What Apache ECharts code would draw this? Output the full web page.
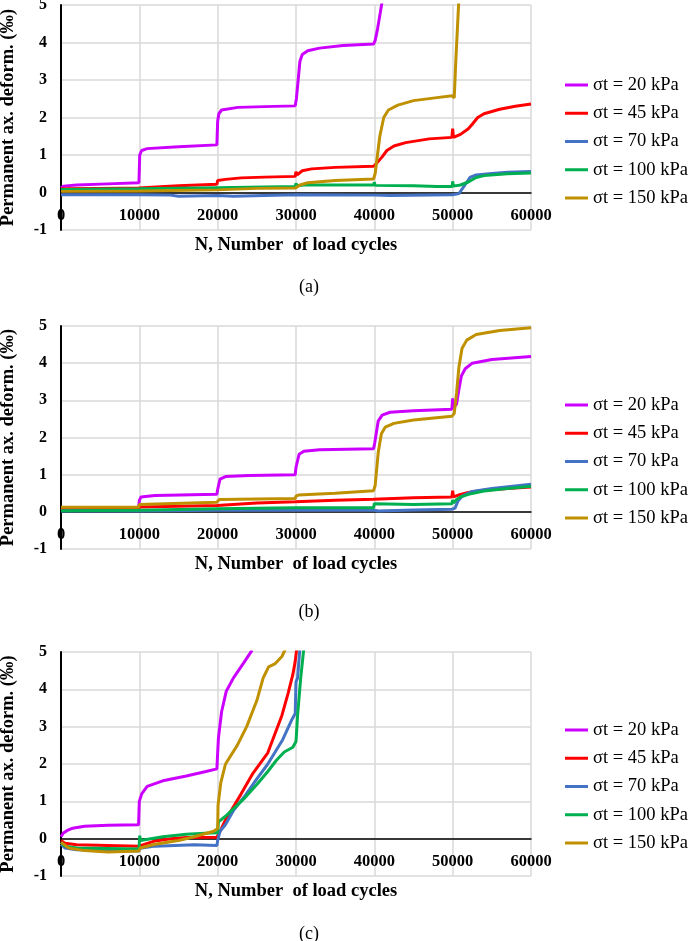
<!DOCTYPE html>
<html>
<head>
<meta charset="utf-8">
<script src="https://cdn.jsdelivr.net/npm/echarts@6/dist/echarts.min.js"></script>
<style>
html,body{margin:0;padding:0;background:#fff;}
#chart{width:690px;height:941px;}
</style>
</head>
<body>
<div id="chart"></div>
<script>
// ---------- tick labels ----------
const xTicks = [0, 10000, 20000, 30000, 40000, 50000, 60000];
const yTicks = [-1, 0, 1, 2, 3, 4, 5];
const seriesNames = ['σt = 20 kPa', 'σt = 45 kPa', 'σt = 70 kPa', 'σt = 100 kPa', 'σt = 150 kPa'];
const panelLabels = ['(a)', '(b)', '(c)'];
const xTitle = 'N, Number  of load cycles';
const yTitle = 'Permanent ax. deform. (‰)';

// ---------- panel (a) ----------
const a20 = [[0,0.12],[300,0.17],[2000,0.2],[6000,0.23],[9950,0.26],[10050,1.0],[10300,1.12],[11000,1.17],[15000,1.22],[19900,1.27],[20000,1.9],[20150,2.1],[20500,2.2],[22600,2.27],[26000,2.29],[29900,2.31],[30050,2.5],[30500,3.5],[30800,3.68],[31500,3.78],[33000,3.85],[36000,3.92],[39900,3.96],[40100,4.05],[40400,4.35],[41000,5.1]];
const a45 = [[0,0.1],[5000,0.11],[9900,0.12],[10000,0.14],[15000,0.18],[19900,0.22],[20000,0.32],[20150,0.27],[21000,0.35],[23000,0.39],[26000,0.41],[29900,0.43],[30000,0.55],[30150,0.47],[30800,0.58],[32000,0.63],[35000,0.67],[39900,0.7],[40200,0.76],[41000,0.95],[41600,1.12],[42500,1.24],[44000,1.33],[47000,1.43],[49900,1.47],[50000,1.7],[50100,1.47],[51000,1.55],[52000,1.7],[52500,1.82],[53200,2.0],[54000,2.1],[56000,2.22],[58000,2.3],[60000,2.36]];
const a70 = [[0,-0.06],[10000,-0.06],[14000,-0.07],[15000,-0.1],[20000,-0.08],[22000,-0.1],[30000,-0.06],[40000,-0.07],[42000,-0.08],[50000,-0.06],[50800,-0.03],[51500,0.18],[52200,0.4],[53000,0.47],[55000,0.51],[57000,0.54],[60000,0.56]];
const a100 = [[0,0.08],[10000,0.1],[20000,0.13],[29900,0.16],[30000,0.24],[30200,0.18],[31000,0.2],[35000,0.2],[39950,0.2],[40000,0.28],[40100,0.19],[45000,0.18],[48000,0.16],[49950,0.16],[50000,0.3],[50100,0.17],[51000,0.2],[52000,0.28],[53000,0.4],[54000,0.45],[57000,0.5],[60000,0.52]];
const a150 = [[0,0.03],[9950,0.04],[10050,0.08],[19950,0.07],[20050,0.12],[25000,0.11],[29950,0.12],[30500,0.2],[31500,0.26],[35000,0.32],[39900,0.36],[40100,0.5],[40700,1.5],[41200,2.0],[41800,2.2],[43000,2.33],[45000,2.45],[48000,2.53],[49950,2.58],[50200,2.52],[50400,3.5],[50800,5.2]];

// ---------- panel (b) ----------
const b20 = [[0,0.08],[9900,0.1],[10000,0.3],[10200,0.4],[12000,0.44],[19900,0.47],[20000,0.6],[20300,0.88],[21000,0.95],[24000,0.98],[29900,1.0],[30000,1.2],[30400,1.55],[31000,1.63],[33000,1.67],[39900,1.7],[40050,1.85],[40500,2.45],[41000,2.6],[42000,2.68],[45000,2.72],[49900,2.76],[50000,3.05],[50100,2.8],[50500,2.9],[50800,3.3],[51100,3.65],[51600,3.85],[52500,4.0],[55000,4.1],[60000,4.18]];
const b45 = [[0,0.09],[500,0.05],[9900,0.07],[10000,0.13],[19900,0.17],[20000,0.22],[25000,0.24],[29900,0.27],[30000,0.3],[35000,0.31],[39900,0.34],[40000,0.36],[45000,0.38],[49900,0.4],[50000,0.57],[50100,0.4],[51000,0.47],[52000,0.52],[54000,0.58],[57000,0.63],[60000,0.67]];
const b70 = [[0,0.02],[10000,0.02],[20000,0.04],[30000,0.04],[40000,0.04],[40500,0.02],[45000,0.05],[49900,0.07],[50300,0.1],[50700,0.3],[51200,0.42],[52500,0.55],[55000,0.63],[60000,0.74]];
const b100 = [[0,0.03],[9900,0.04],[10000,0.06],[19900,0.08],[20000,0.1],[29900,0.11],[30000,0.14],[30100,0.11],[39900,0.11],[40000,0.22],[40100,0.17],[45000,0.2],[49900,0.22],[50000,0.32],[50100,0.24],[50500,0.33],[51000,0.4],[52000,0.47],[54000,0.56],[57000,0.63],[60000,0.69]];
const b150 = [[0,0.12],[9900,0.12],[10000,0.2],[10200,0.23],[19900,0.26],[20000,0.3],[20200,0.33],[29900,0.36],[30000,0.42],[30300,0.45],[35000,0.5],[39900,0.57],[40100,0.7],[40500,1.6],[40900,2.1],[41400,2.28],[42500,2.38],[45000,2.47],[49900,2.57],[50200,2.65],[50500,3.2],[50800,3.9],[51200,4.4],[51800,4.62],[53000,4.77],[56000,4.88],[60000,4.95]];

// ---------- panel (c) ----------
const c20 = [[0,0.05],[300,0.15],[800,0.22],[1500,0.28],[3000,0.33],[6000,0.36],[9900,0.37],[10000,1.0],[10300,1.2],[11000,1.4],[13000,1.55],[16000,1.68],[18500,1.8],[19900,1.87],[20000,2.3],[20100,2.7],[20500,3.4],[21100,3.95],[22000,4.3],[23300,4.7],[24400,5.05]];
const c45 = [[0,-0.05],[500,-0.12],[2000,-0.16],[9950,-0.2],[10100,-0.15],[12000,-0.06],[14000,0.0],[16000,0.03],[19900,0.04],[20200,0.15],[21000,0.5],[22000,0.85],[23000,1.2],[24500,1.75],[26400,2.3],[28200,3.3],[29000,3.9],[29600,4.4],[29900,4.75],[30100,5.1]];
const c70 = [[0,-0.15],[500,-0.25],[2000,-0.3],[9950,-0.33],[10100,-0.26],[12000,-0.2],[17000,-0.16],[19900,-0.18],[20000,-0.05],[20300,0.2],[21000,0.38],[22000,0.75],[23500,1.15],[25000,1.6],[26400,2.0],[28300,2.65],[29500,3.2],[29900,3.35],[30000,4.2],[30200,4.3],[30500,5.1]];
const c100 = [[0,-0.1],[500,-0.2],[2000,-0.25],[9950,-0.28],[10050,0.08],[10150,-0.05],[13000,0.05],[16000,0.12],[19000,0.15],[20000,0.16],[20100,0.45],[21000,0.6],[22000,0.8],[23500,1.1],[25000,1.45],[26400,1.8],[27500,2.1],[28500,2.32],[29600,2.45],[30000,2.6],[30200,3.3],[30600,4.3],[31000,5.1]];
const c150 = [[0,-0.1],[1000,-0.25],[3000,-0.32],[6000,-0.36],[9950,-0.33],[10100,-0.25],[12000,-0.15],[15000,-0.05],[17000,0.05],[19500,0.2],[20000,0.27],[20050,0.9],[20400,1.5],[21000,2.0],[22500,2.5],[23700,3.0],[25000,3.7],[25800,4.3],[26500,4.6],[27300,4.68],[28200,4.88],[28700,5.1]];

const panelData = [
  [a20, a45, a70, a100, a150],
  [b20, b45, b70, b100, b150],
  [c20, c45, c70, c100, c150]
];

// ---------- styling / layout ----------
const colors = ['#CC00FF', '#FF0000', '#4472C4', '#00B050', '#BF9000'];
const FONT = '"Liberation Serif", "Times New Roman", serif';
const gridTops = [5, 326, 652];
const gridHeights = [225, 223, 224];
const legendTops = [75.5, 395.5, 720.5];
const labelY = [287.5, 612, 934];

const grids = [], xAxes = [], yAxes = [], series = [], legends = [], graphics = [];
panelData.forEach((sets, p) => {
  grids.push({left: 61, width: 470, top: gridTops[p], height: gridHeights[p], containLabel: false, outerBoundsMode: 'none'});
  xAxes.push({
    type: 'value', gridIndex: p,
    min: xTicks[0], max: xTicks[xTicks.length - 1], interval: xTicks[1] - xTicks[0],
    axisLine: {show: true, onZero: true, lineStyle: {color: '#000', width: 1.5}},
    axisTick: {show: false},
    axisLabel: {color: '#000', fontFamily: FONT, fontWeight: 'bold', fontSize: 16.5, margin: -23,
      formatter: v => String(v)},
    splitLine: {show: true, lineStyle: {color: '#d9d9d9', width: 1.5}},
    name: xTitle, nameLocation: 'middle', nameGap: 6,
    nameTextStyle: {color: '#000', fontFamily: FONT, fontWeight: 'bold', fontSize: 18.5}
  });
  yAxes.push({
    type: 'value', gridIndex: p,
    min: yTicks[0], max: yTicks[yTicks.length - 1], interval: yTicks[1] - yTicks[0],
    axisLine: {show: true, onZero: false, lineStyle: {color: '#000', width: 2}},
    axisTick: {show: false},
    axisLabel: {color: '#000', fontFamily: FONT, fontWeight: 'bold', fontSize: 16, margin: 14},
    splitLine: {show: true, lineStyle: {color: '#d9d9d9', width: 1.5}},
    name: yTitle, nameLocation: 'middle', nameGap: 43.5,
    nameTextStyle: {color: '#000', fontFamily: FONT, fontWeight: 'bold', fontSize: 18.5}
  });
  sets.forEach((d, s) => {
    series.push({
      type: 'line', name: seriesNames[s], xAxisIndex: p, yAxisIndex: p,
      data: d, showSymbol: false, symbol: 'none', clip: true, animation: false,
      lineStyle: {color: colors[s], width: 3},
      itemStyle: {color: colors[s]}
    });
  });
  legends.push({
    orient: 'vertical', left: 565, top: legendTops[p], padding: 0,
    data: seriesNames, icon: 'rect', itemWidth: 23, itemHeight: 3, itemGap: 9.25,
    textStyle: {color: '#000', fontFamily: FONT, fontSize: 18.5, lineHeight: 19},
    selectedMode: false
  });
  graphics.push({
    type: 'text', x: 309, y: labelY[p],
    style: {text: panelLabels[p], fill: '#000', font: '18px ' + FONT, textAlign: 'center', textVerticalAlign: 'middle'}
  });
});

const chart = echarts.init(document.getElementById('chart'), null, {renderer: 'canvas'});
chart.setOption({
  backgroundColor: '#fff',
  animation: false,
  color: colors,
  grid: grids, xAxis: xAxes, yAxis: yAxes,
  series: series, legend: legends, graphic: graphics
});
</script>
</body>
</html>
